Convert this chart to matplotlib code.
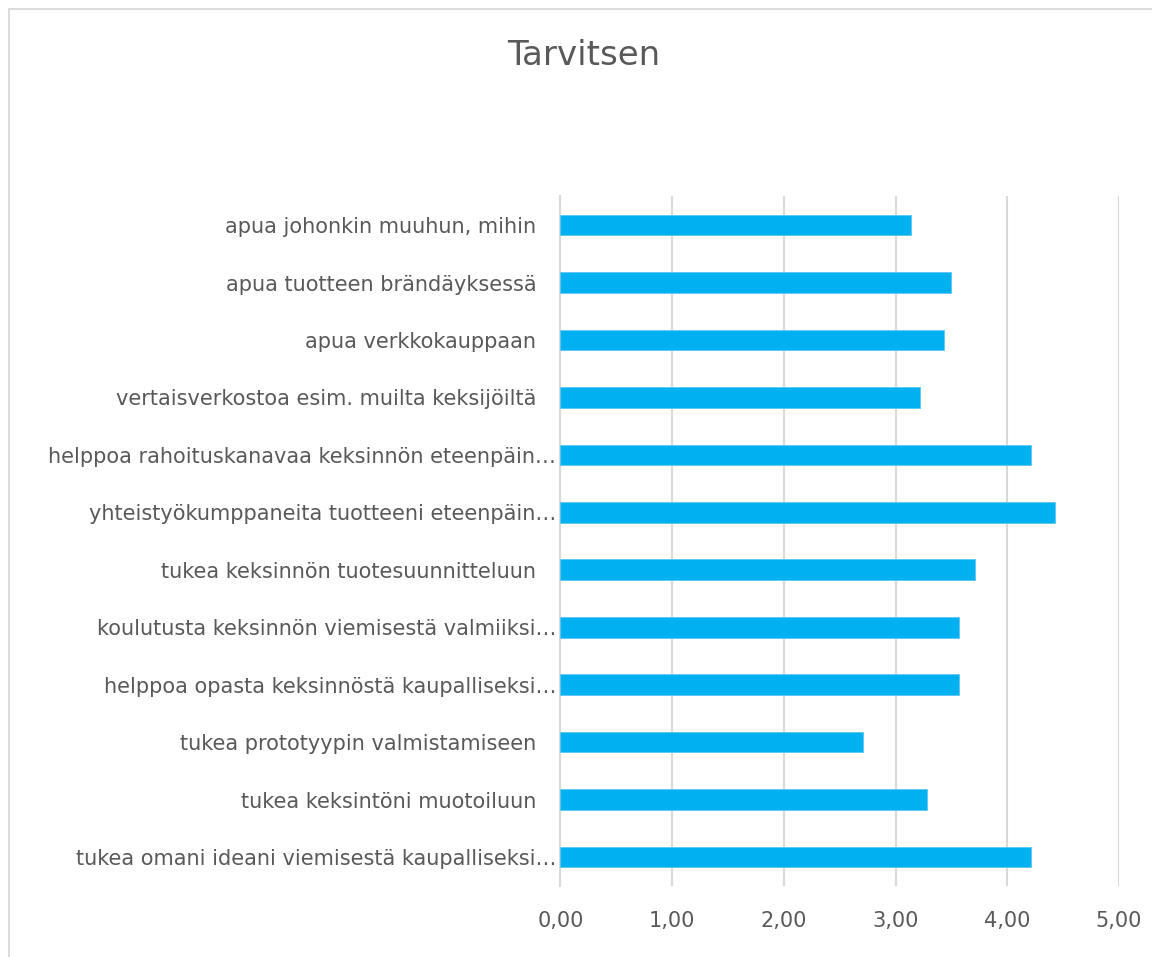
import matplotlib.pyplot as plt
from matplotlib.patches import Rectangle
from matplotlib.ticker import FuncFormatter

# survey items, bottom to top as they appear on the y axis
categories = [
    "tukea omani ideani viemisestä kaupalliseksi…",
    "tukea keksintöni muotoiluun   ",
    "tukea prototyypin valmistamiseen   ",
    "helppoa opasta keksinnöstä kaupalliseksi…",
    "koulutusta keksinnön viemisestä valmiiksi…",
    "tukea keksinnön tuotesuunnitteluun   ",
    "yhteistyökumppaneita tuotteeni eteenpäin…",
    "helppoa rahoituskanavaa keksinnön eteenpäin…",
    "vertaisverkostoa esim. muilta keksijöiltä   ",
    "apua verkkokauppaan   ",
    "apua tuotteen brändäyksessä   ",
    "apua johonkin muuhun, mihin   ",
]
averages = [4.21, 3.28, 2.71, 3.57, 3.57, 3.71, 4.43, 4.21, 3.22, 3.43, 3.50, 3.14]
x_ticks = [0, 1, 2, 3, 4, 5]

TEXT = "#595959"
GRID = "#D9D9D9"
BAR = "#00B0F0"

plt.rcParams["font.family"] = "DejaVu Sans"

fig = plt.figure(figsize=(11.52, 9.57), dpi=100)
fig.patches.append(
    Rectangle((9 / 1152, -0.1), 1.2, 1 - 9 / 957 + 0.1, transform=fig.transFigure,
              fill=False, edgecolor=GRID, linewidth=1.3)
)

ax = fig.add_axes([0.4865, 0.0745, 0.4849, 0.7203])
ypos = list(range(len(categories)))
ax.barh(ypos, averages, height=0.36, color=BAR, edgecolor="#5BC8F2", linewidth=0.6, zorder=3)

ax.set_xlim(0, 5)
ax.set_ylim(-0.5, len(categories) - 0.5)
ax.set_xticks(x_ticks)
ax.xaxis.set_major_formatter(FuncFormatter(lambda v, p: f"{v:.2f}".replace(".", ",")))
ax.set_yticks(ypos)
ax.set_yticklabels(categories)

ax.grid(axis="x", color=GRID, linewidth=1.5, zorder=0)
for s in ["top", "right", "bottom"]:
    ax.spines[s].set_visible(False)
ax.spines["left"].set_color(GRID)
ax.spines["left"].set_linewidth(1.5)
ax.tick_params(axis="both", length=0, labelsize=15, labelcolor=TEXT)
ax.tick_params(axis="x", pad=18)
ax.tick_params(axis="y", pad=3)

fig.text(0.507, 0.9425, "Tarvitsen", ha="center", va="center", fontsize=24.5, color=TEXT)

fig.savefig("out.png", dpi=100)
